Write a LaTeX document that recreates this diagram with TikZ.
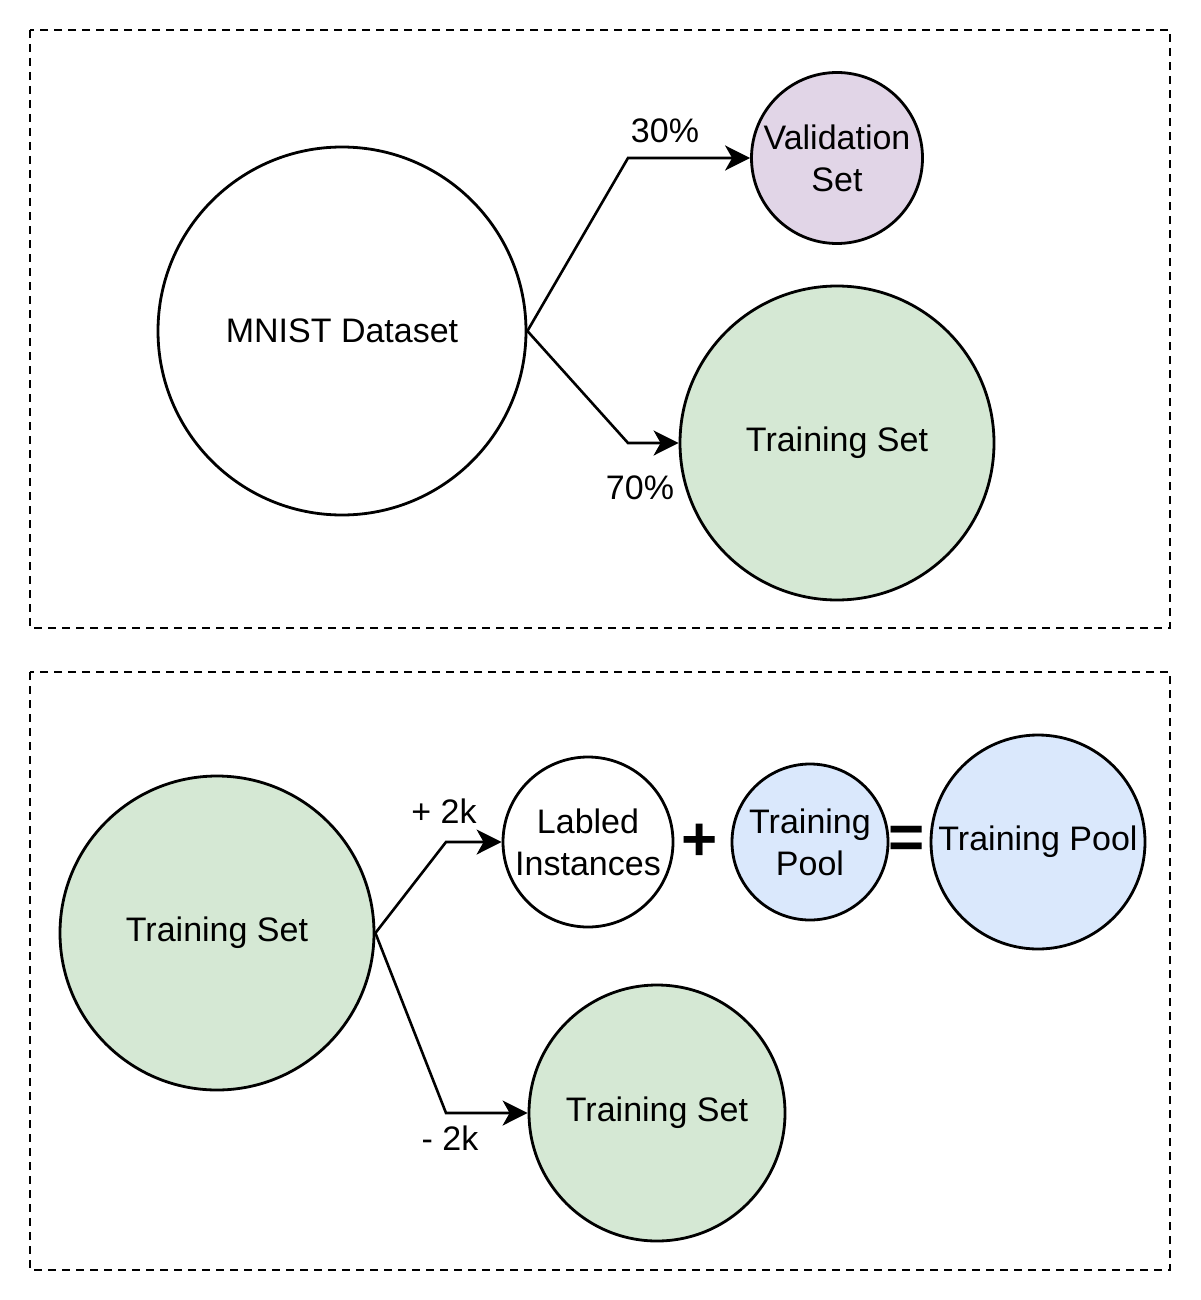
\documentclass[tikz,border=0pt]{standalone}
\usepackage{fontspec}
\setmainfont{Liberation Sans}
\usetikzlibrary{arrows.meta}
\definecolor{trainGreen}{HTML}{D5E8D4}
\definecolor{valPurple}{HTML}{E1D5E7}
\definecolor{poolBlue}{HTML}{DAE8FC}
\newcommand{\diagFont}{\fontsize{34}{42}\selectfont}
\newcommand{\opFont}{\fontsize{62}{62}\selectfont\bfseries}
\tikzset{
  setnode/.style={circle,draw=black,line width=2.8pt,inner sep=0pt,align=center,font=\diagFont},
  splitarrow/.style={line width=2.6pt,-{Stealth[length=25pt,width=25pt,inset=7pt]}},
  splitlabel/.style={font=\diagFont,inner sep=0pt},
  framebox/.style={draw=black,line width=2.2pt,dash pattern=on 8pt off 6pt},
}

\begin{document}
\begin{tikzpicture}[x=1pt,y=-1pt]
  \useasboundingbox (0,0) rectangle (1200,1300);
  \fill[white] (0,0) rectangle (1200,1300);
  % frames
  \draw[framebox] (30,30) rectangle (1170,628);
  \draw[framebox] (30,672) rectangle (1170,1270);
  % upper split
  \node[setnode,minimum size=368pt] (mnist) at (342,331) {MNIST Dataset};
  \node[setnode,minimum size=171pt,fill=valPurple] (valset) at (837,158) {Validation\\Set};
  \node[setnode,minimum size=314pt,fill=trainGreen] (trainset) at (837,443) {Training Set};
  \coordinate (upbend) at (628,158);
  \coordinate (lowbend) at (628,443);
  \draw[splitarrow] (mnist.east) -- (upbend) -- (valset.west);
  \draw[splitarrow] (mnist.east) -- (lowbend) -- (trainset.west);
  \node[splitlabel] (pctval) at (665,131) {30\%};
  \node[splitlabel] (pcttrain) at (640,488) {70\%};
  % lower split
  \node[setnode,minimum size=314pt,fill=trainGreen] (trainsrc) at (217,933) {Training Set};
  \node[setnode,minimum size=170pt] (labeled) at (588,842) {Labled\\Instances};
  \node[setnode,minimum size=156pt,fill=poolBlue] (poolold) at (810,842) {Training\\Pool};
  \node[setnode,minimum size=214pt,fill=poolBlue] (poolnew) at (1038,842) {Training Pool};
  \node[setnode,minimum size=256pt,fill=trainGreen] (trainrest) at (657,1113) {Training Set};
  \node[font=\opFont,inner sep=0pt] (plusop) at (700,842) {+};
  \node[font=\opFont,inner sep=0pt] (eqop) at (907,842) {=};
  \coordinate (addbend) at (446,842);
  \coordinate (subbend) at (446,1113);
  \draw[splitarrow] (trainsrc.east) -- (addbend) -- (labeled.west);
  \draw[splitarrow] (trainsrc.east) -- (subbend) -- (trainrest.west);
  \node[splitlabel] (addlabel) at (444,811) {+ 2k};
  \node[splitlabel] (sublabel) at (450,1138) {- 2k};
\end{tikzpicture}
\end{document}
